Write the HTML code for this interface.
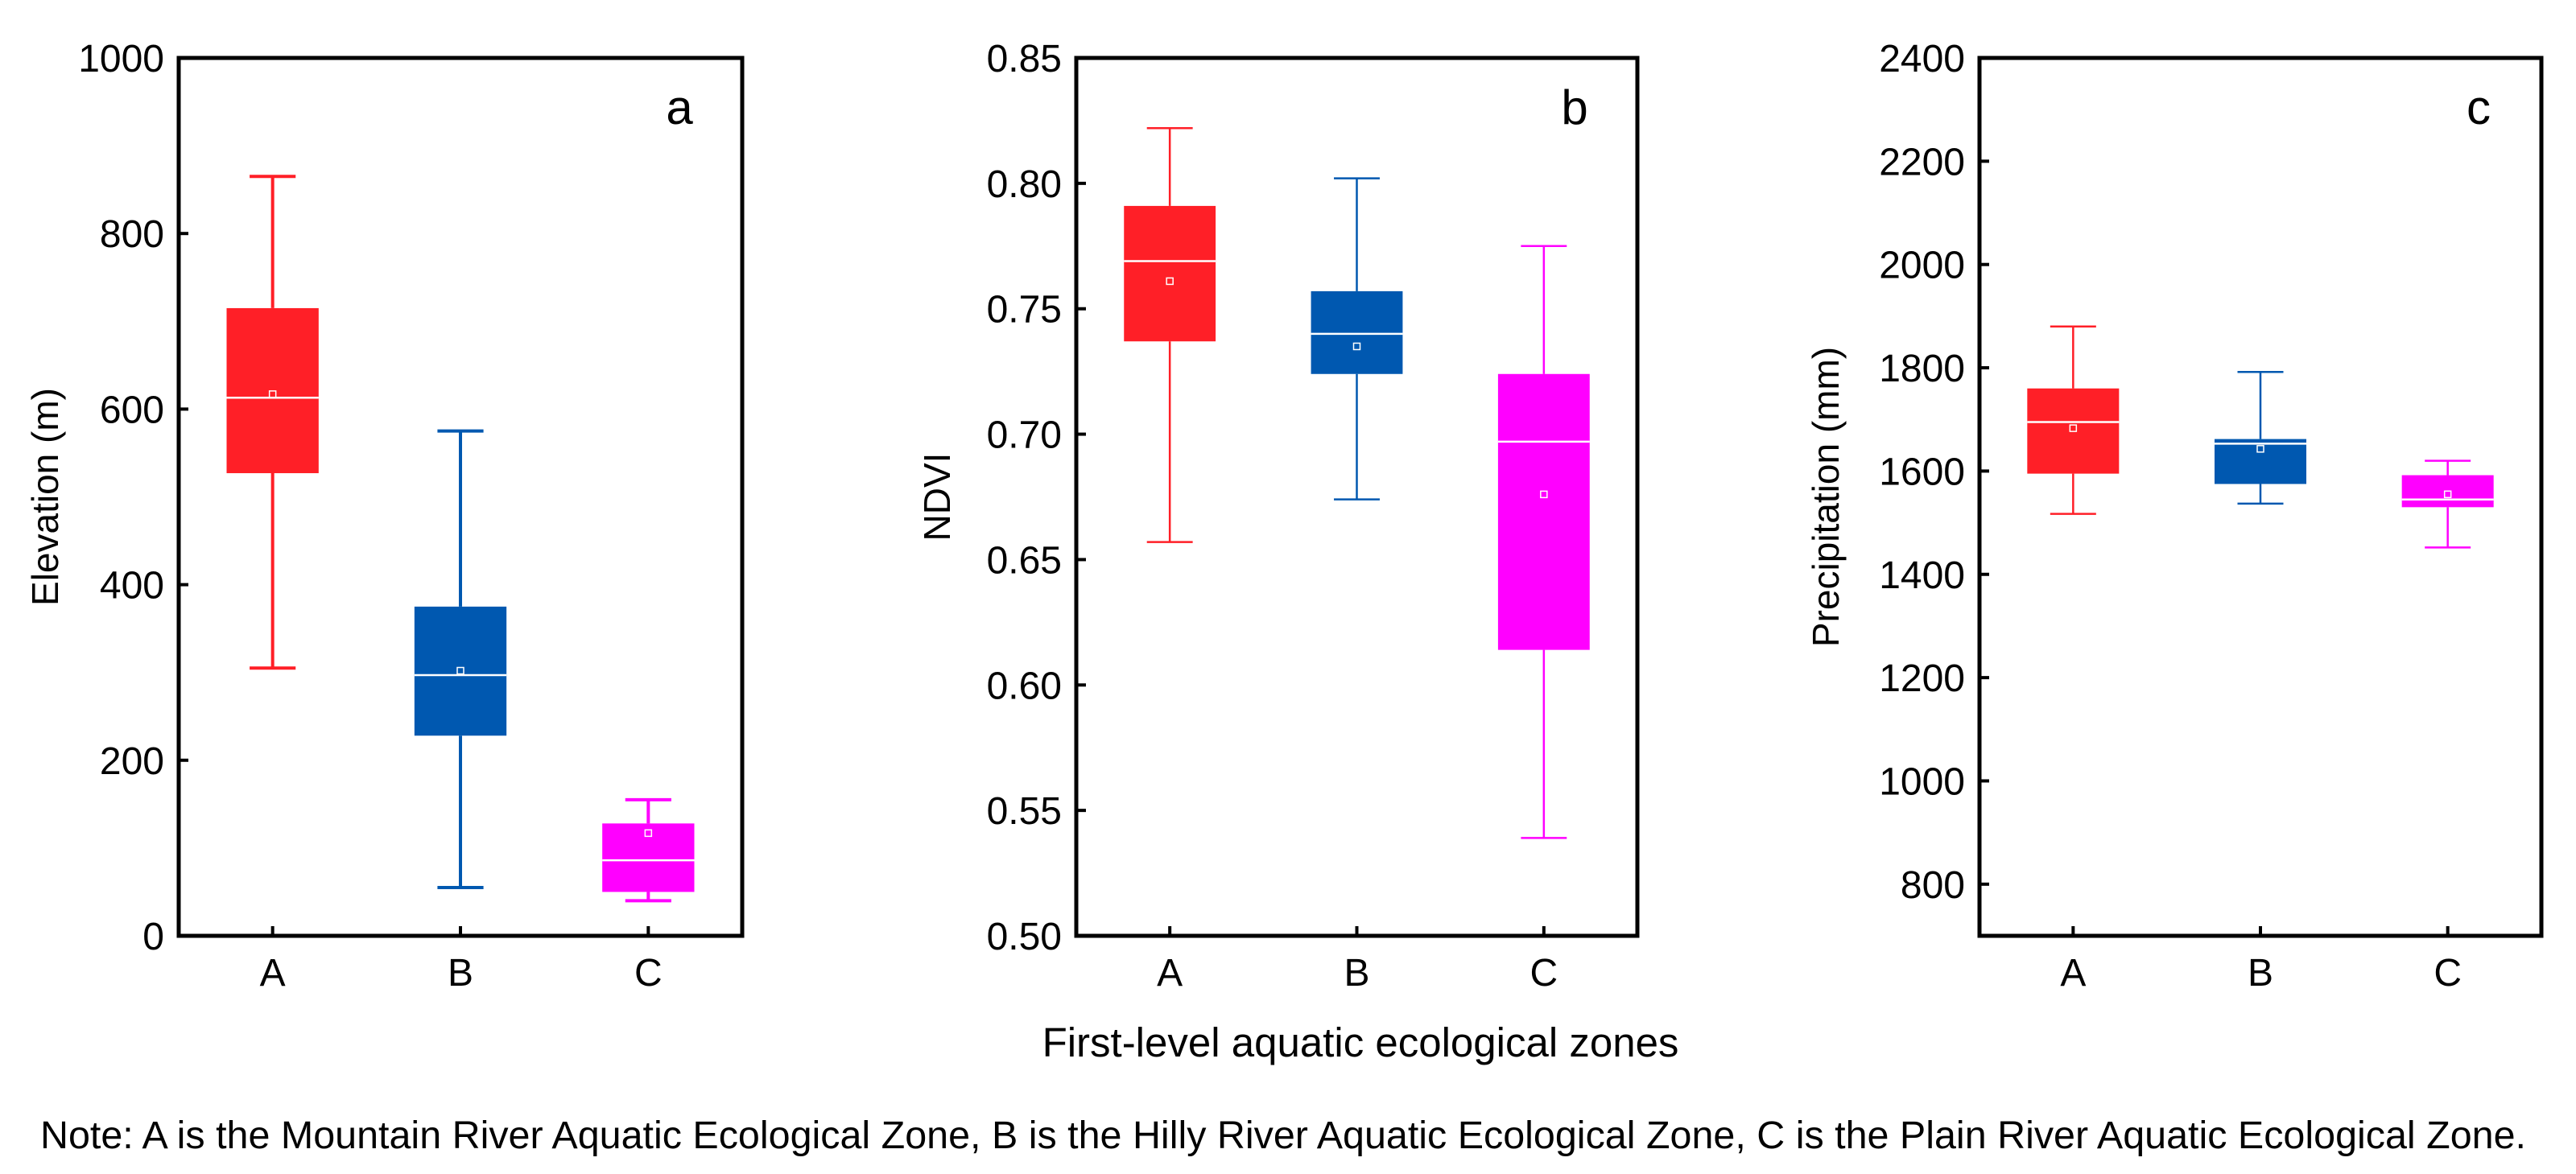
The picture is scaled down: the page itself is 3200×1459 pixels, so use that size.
<!DOCTYPE html>
<html><head><meta charset="utf-8"><style>
html,body{margin:0;padding:0;background:#fff;}
svg{display:block;font-family:"Liberation Sans",Arial,sans-serif;}
</style></head><body>
<svg id="chart" width="3200" height="1459" viewBox="0 0 3200 1459" xmlns="http://www.w3.org/2000/svg">
<text x="1690" y="1313" font-size="51" text-anchor="middle">First-level aquatic ecological zones</text>
<text x="50" y="1427" font-size="48" textLength="3088" lengthAdjust="spacingAndGlyphs">Note: A is the Mountain River Aquatic Ecological Zone, B is the Hilly River Aquatic Ecological Zone, C is the Plain River Aquatic Ecological Zone.</text>
</svg>
<script>
const categories = ["A","B","C"];
const colors = ["#FF1F27","#0058B0","#FF00FF"];
// panel a: Elevation
const elevMax = [865,575,155];
const elevQ3 = [715,375,128];
const elevMed = [613,297,86];
const elevMean = [617,302,117];
const elevQ1 = [527,228,50];
const elevMin = [305,55,40];
const elevTicks = [0,200,400,600,800,1000];
// panel b: NDVI
const ndviMax = [0.822,0.802,0.775];
const ndviQ3 = [0.791,0.757,0.724];
const ndviMed = [0.769,0.740,0.697];
const ndviMean = [0.761,0.735,0.676];
const ndviQ1 = [0.737,0.724,0.614];
const ndviMin = [0.657,0.674,0.539];
const ndviTicks = ["0.50","0.55","0.60","0.65","0.70","0.75","0.80","0.85"];
// panel c: Precipitation
const precMax = [1880,1792,1620];
const precQ3 = [1760,1662,1592];
const precMed = [1695,1653,1545];
const precMean = [1683,1643,1555];
const precQ1 = [1595,1575,1530];
const precMin = [1517,1537,1452];
const precTicks = [800,1000,1200,1400,1600,1800,2000,2200,2400];

const NS="http://www.w3.org/2000/svg";
const svg=document.getElementById('chart');
function mk(tag,attrs,parent){const e=document.createElementNS(NS,tag);for(const k in attrs)e.setAttribute(k,attrs[k]);(parent||svg).appendChild(e);return e;}

function panel(cfg){
  const g=mk('g',{});
  
  
  const L=cfg.left,R=cfg.right,T=cfg.top,B=cfg.bottom;
  const y=v=>B-(v-cfg.ymin)/(cfg.ymax-cfg.ymin)*(B-T);
  const x=i=>L+(i+0.5)/3*(R-L);
  const bw=(R-L)/3*0.49;
  for(let i=0;i<3;i++){
    const c=colors[i];
    const bg=mk('g',{},g);
    
    
    const xc=x(i);
    mk('line',{x1:xc,x2:xc,y1:y(cfg.max[i]),y2:y(cfg.q3[i]),stroke:c,'stroke-width':cfg.lw},bg);
    mk('line',{x1:xc,x2:xc,y1:y(cfg.q1[i]),y2:y(cfg.min[i]),stroke:c,'stroke-width':cfg.lw},bg);
    mk('line',{x1:xc-bw/4,x2:xc+bw/4,y1:y(cfg.max[i]),y2:y(cfg.max[i]),stroke:c,'stroke-width':cfg.lw},bg);
    mk('line',{x1:xc-bw/4,x2:xc+bw/4,y1:y(cfg.min[i]),y2:y(cfg.min[i]),stroke:c,'stroke-width':cfg.lw},bg);
    mk('rect',{x:xc-bw/2,y:y(cfg.q3[i]),width:bw,height:y(cfg.q1[i])-y(cfg.q3[i]),fill:c},bg);
    mk('line',{x1:xc-bw/2,x2:xc+bw/2,y1:y(cfg.med[i]),y2:y(cfg.med[i]),stroke:'#fff','stroke-width':2.5},bg);
    mk('rect',{x:xc-4,y:y(cfg.mean[i])-4,width:8,height:8,fill:'none',stroke:'#fff','stroke-width':1.5},bg);
  }
  mk('rect',{x:L,y:T,width:R-L,height:B-T,fill:'none',stroke:'#000','stroke-width':5},g);
  cfg.ticks.forEach(t=>{
    const v=parseFloat(t),yy=y(v);
    mk('line',{x1:L,x2:L+12,y1:yy,y2:yy,stroke:'#000','stroke-width':4},g);
    const tx=mk('text',{x:L-18,y:yy+17,'font-size':48,'text-anchor':'end'},g);
    tx.textContent=t;
    
    
  });
  categories.forEach((c,i)=>{
    mk('line',{x1:x(i),x2:x(i),y1:B,y2:B-12,stroke:'#000','stroke-width':4},g);
    const tx=mk('text',{x:x(i),y:B+62,'font-size':48,'text-anchor':'middle'},g);
    tx.textContent=c;
    
    
  });
  const yt=mk('text',{x:0,y:0,'font-size':46,'text-anchor':'middle',transform:`translate(${cfg.titleX},${(T+B)/2}) rotate(-90)`},g);
  yt.textContent=cfg.title;
  
  
  const lt=mk('text',{x:R-78,y:T+82,'font-size':60,'text-anchor':'middle'},g);
  lt.textContent=cfg.letter;
  
  
}
panel({letter:'a',left:222,right:922,top:72,bottom:1163,ymin:0,ymax:1000,ticks:elevTicks.map(String),
  max:elevMax,q3:elevQ3,med:elevMed,mean:elevMean,q1:elevQ1,min:elevMin,lw:4,title:'Elevation (m)',titleX:72});
panel({letter:'b',left:1337,right:2034,top:72,bottom:1163,ymin:0.5,ymax:0.85,ticks:ndviTicks,
  max:ndviMax,q3:ndviQ3,med:ndviMed,mean:ndviMean,q1:ndviQ1,min:ndviMin,lw:2.5,title:'NDVI',titleX:1180});
panel({letter:'c',left:2459,right:3157,top:72,bottom:1163,ymin:700,ymax:2400,ticks:precTicks.map(String),
  max:precMax,q3:precQ3,med:precMed,mean:precMean,q1:precQ1,min:precMin,lw:2.5,title:'Precipitation (mm)',titleX:2284});
</script>
</body></html>
